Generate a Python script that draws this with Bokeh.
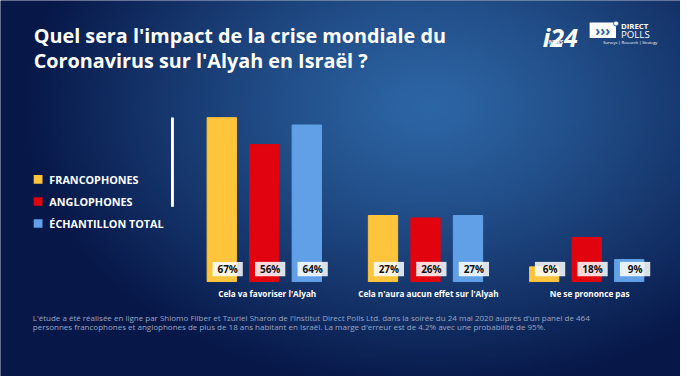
import numpy as np
from bokeh.plotting import figure
from bokeh.models import Range1d, ColumnDataSource
from bokeh.core.properties import value
from bokeh.embed import file_html
from bokeh.resources import INLINE

# ---- data ----
categories = ["Cela va favoriser l'Alyah", "Cela n'aura aucun effet sur l'Alyah", "Ne se prononce pas"]
series = ["FRANCOPHONES", "ANGLOPHONES", "ÉCHANTILLON TOTAL"]
francophones = [67, 27, 6]
anglophones = [56, 26, 18]
echantillon_total = [64, 27, 9]
title_lines = ["Quel sera l'impact de la crise mondiale du", "Coronavirus sur l'Alyah en Israël ?"]
footnote_lines = [
    "L'étude a été réalisée en ligne par Shlomo Filber et Tzuriel Sharon de l'Institut Direct Polls Ltd. dans la soirée du 24 mai 2020 auprès d'un panel de 464",
    "personnes francophones et anglophones de plus de 18 ans habitant en Israël. La marge d'erreur est de 4.2% avec une probabilité de 95%.",
]

colors = ["#FDC43C", "#E1040E", "#61A0E7"]
FONT = value("Open Sans")
W, H = 680, 376
S = 0.97  # font scale

# layout helpers (reference pixel space -> data space)
BASE = 293.0
PX_PER_PCT = 2.55
def Y(py):
    return (BASE - py) / PX_PER_PCT

p = figure(width=W, height=H, output_backend="svg", toolbar_location=None,
           x_range=Range1d(0, 696), y_range=Range1d(Y(392), Y(0)),
           min_border=0, min_border_left=0, min_border_right=0,
           min_border_top=0, min_border_bottom=0)
p.axis.visible = False
p.grid.visible = False
p.outline_line_color = None
p.background_fill_color = "#0b1f55"
p.border_fill_color = "#0b1f55"

# background gradient
nx, ny = 240, 135
xs = np.linspace(0, 696, nx)
ys = np.linspace(392, 0, ny)  # row 0 = bottom
XX, YY = np.meshgrid(xs, ys)
d = np.sqrt(((XX - 440) / 420) ** 2 + ((YY - 110) / 300) ** 2)
t = np.clip(d, 0, 1) ** 1.2
c0 = np.array([0x2d, 0x66, 0xa5])
c1 = np.array([0x07, 0x17, 0x48])
rgb = c0[None, None, :] * (1 - t[..., None]) + c1[None, None, :] * t[..., None]
img = np.empty((ny, nx), dtype=np.uint32)
view = img.view(dtype=np.uint8).reshape((ny, nx, 4))
view[..., 0] = rgb[..., 0]
view[..., 1] = rgb[..., 1]
view[..., 2] = rgb[..., 2]
view[..., 3] = 255
p.image_rgba(image=[img], x=0, y=Y(392), dw=696, dh=Y(0) - Y(392))

# bars
vals = [francophones, anglophones, echantillon_total]
group_c = [270 + 165 * g for g in range(len(categories))]
bx, btop, bcol, lx, ltxt = [], [], [], [], []
for s, v in enumerate(vals):
    for g, val in enumerate(v):
        cx = group_c[g] + (s - 1) * 43.5
        bx.append(cx)
        btop.append(val)
        bcol.append(colors[s])
        lx.append(cx + 6)
        ltxt.append(f"{val}%")
src = ColumnDataSource(dict(x=bx, top=btop, color=bcol, lx=lx, txt=ltxt,
                            ly=[Y(280)] * len(bx)))
p.vbar(x="x", top="top", bottom=0, width=30, fill_color="color",
       line_color="color", source=src)
p.rect(x="lx", y="ly", width=31, height=15 / PX_PER_PCT, fill_color="white",
       fill_alpha=0.85, line_color=None, source=src)
p.text(x="lx", y="ly", text="txt", text_font=FONT, text_font_style="bold",
       text_font_size=f"{10.3*S:.1f}px", text_color="#111111", text_align="center",
       text_baseline="middle", source=src)

# category labels
p.text(x=[c + 3 for c in group_c], y=[Y(305)] * 3, text=categories, text_font=FONT,
       text_font_style="bold", text_font_size=f"{8.5*S:.1f}px", text_color="white",
       text_align="center", text_baseline="middle")

# vertical white line
p.quad(left=[174.5], right=[177.5], bottom=[Y(215)], top=[Y(122)], fill_color="white", line_color=None)

# legend
ly = [Y(186.5 + 23 * i) for i in range(3)]
p.rect(x=[38.5] * 3, y=ly, width=9, height=9 / PX_PER_PCT, fill_color=colors, line_color=None)
p.text(x=[50] * 3, y=ly, text=series, text_font=FONT, text_font_style="bold",
       text_font_size=f"{11.1*S:.1f}px", text_color="white", text_align="left",
       text_baseline="middle")

# title
p.text(x=[34, 34], y=[Y(36), Y(63)], text=title_lines, text_font=FONT,
       text_font_style="bold", text_font_size=f"{20.4*S:.1f}px", text_color="white",
       text_align="left", text_baseline="alphabetic")

# footnote
p.text(x=[33, 33], y=[Y(330.5), Y(340)], text=footnote_lines, text_font=FONT,
       text_font_size=f"{8.25*S:.2f}px", text_color="#9aa6c4", text_align="left",
       text_baseline="middle")

# logo
p.text(x=[555], y=[Y(38.5)], text=["i24"], text_font=FONT, text_font_style="bold italic",
       text_font_size=f"{26*S:.1f}px", text_color="white", text_baseline="alphabetic")
p.text(x=[561], y=[Y(43.5)], text=["NEWS"], text_font=FONT, text_font_style="bold italic",
       text_font_size=f"{5.5*S:.1f}px", text_color="white", text_baseline="middle")
p.quad(left=[603], right=[630], bottom=[Y(39)], top=[Y(23)], fill_color="white", line_color=None)
p.text(x=[616.5], y=[Y(31)], text=["›››"], text_font=FONT, text_font_style="bold",
       text_font_size=f"{14*S:.1f}px", text_color="#2a5fa0", text_align="center",
       text_baseline="middle")
p.scatter(x=[630], y=[Y(24)], size=5, fill_color="white", line_color="#2a5fa0", line_width=1)
p.text(x=[635], y=[Y(26.5)], text=["DIRECT"], text_font=FONT, text_font_style="bold",
       text_font_size=f"{8*S:.1f}px", text_color="white", text_baseline="middle")
p.text(x=[635], y=[Y(35.5)], text=["POLLS"], text_font=FONT,
       text_font_size=f"{10*S:.1f}px", text_color="white", text_baseline="middle")
p.text(x=[617], y=[Y(44)], text=["Surveys | Research | Strategy"], text_font=FONT,
       text_font_size=f"{4*S:.1f}px", text_color="white", text_baseline="middle")

open("out.html", "w").write(file_html(p, INLINE))
